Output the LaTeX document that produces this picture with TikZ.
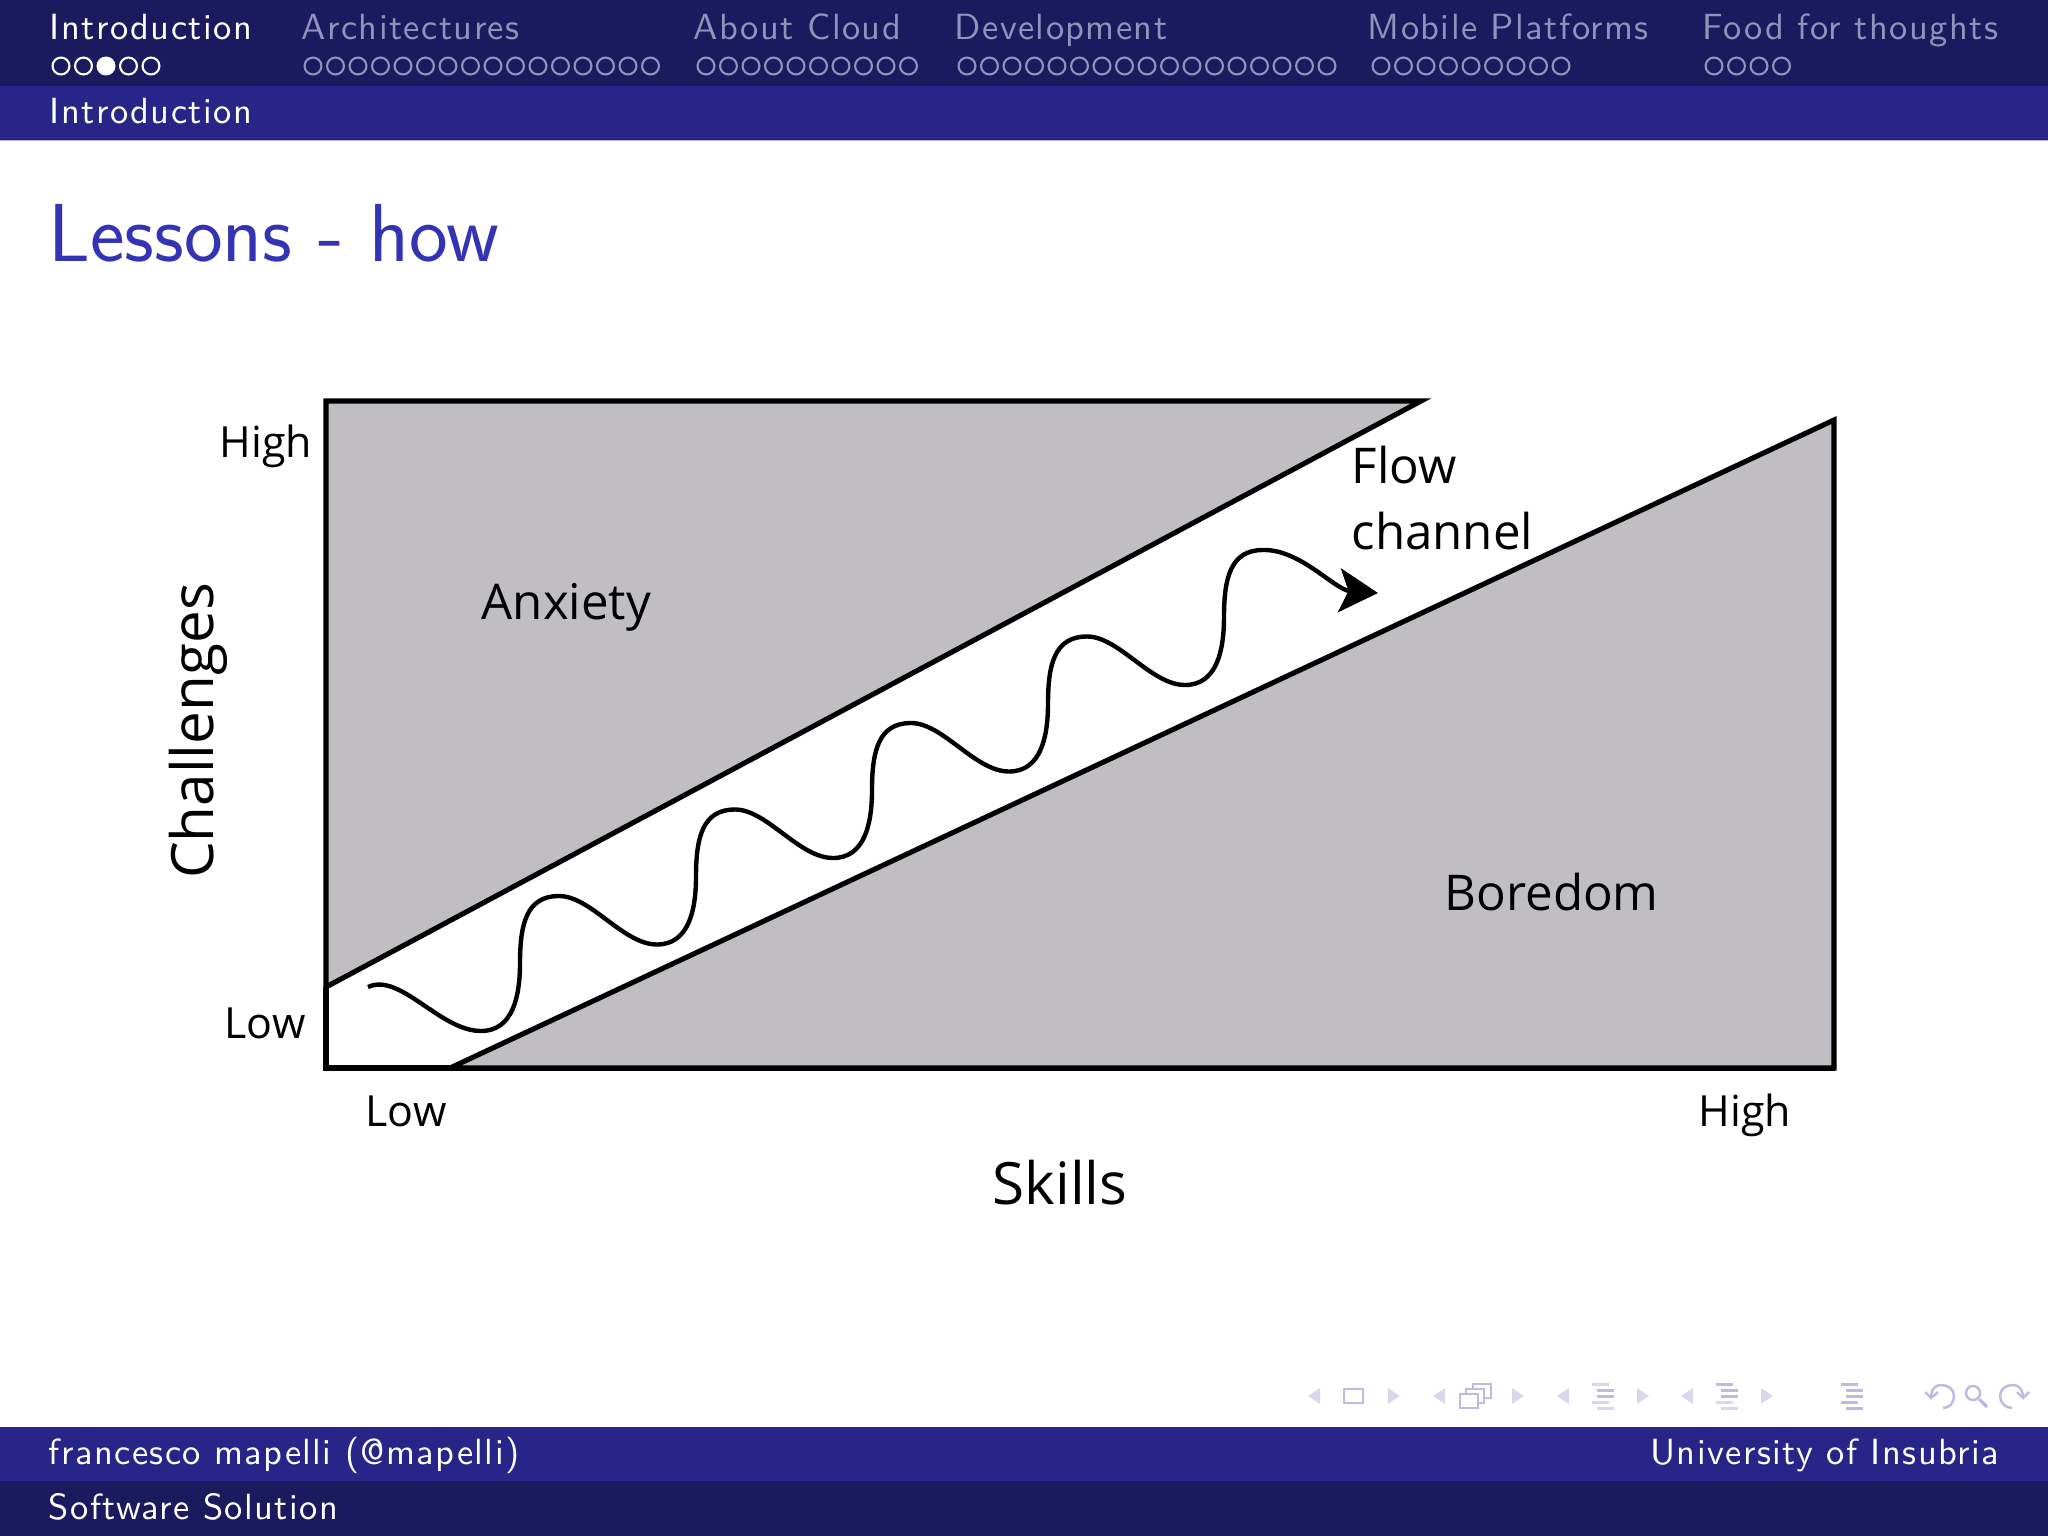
\documentclass[tikz,border=0pt]{standalone}
\usepackage{fontspec}
\usepackage{xcolor}
\usetikzlibrary{arrows.meta}
\setsansfont[LetterSpace=4]{Latin Modern Sans}
\newfontfamily\titlefont{Latin Modern Sans}
\newfontfamily\chartfont{Open Sans}

\definecolor{navdark}{HTML}{1C1A5E}
\definecolor{navmid}{HTML}{272688}
\definecolor{navfaded}{HTML}{9392BC}
\definecolor{titleblue}{HTML}{3333B3}
\definecolor{zonegray}{HTML}{C0BEC2}
\definecolor{iconlight}{HTML}{D8D7EE}
\definecolor{icondark}{HTML}{BDBBE2}

\tikzset{
    navtext/.style={anchor=base west, inner sep=0, font=\sffamily\fontsize{10.35}{12}\selectfont},
    chartlabel/.style={anchor=base west, inner sep=0, font=\chartfont\fontsize{12.2}{15}\selectfont, black},
    chartzone/.style={anchor=base west, inner sep=0, font=\chartfont\fontsize{14}{17}\selectfont, black},
    chartaxis/.style={inner sep=0, font=\chartfont\fontsize{16.6}{20}\selectfont, black},
    zone/.style={draw=black, line width=1.45pt, fill=zonegray, line join=miter},
    navdot/.style={draw=navfaded, line width=0.6pt},
    icontip/.style={fill=iconlight},
    iconline/.style={draw=icondark, line width=0.7pt}
}

\begin{document}
\begin{tikzpicture}[x=0.01cm, y=-0.01cm]
    \useasboundingbox (0, 0) rectangle (2048, 1536);

    % bars
    \fill[navdark] (0, 0) rectangle (2048, 86);
    \fill[navmid] (0, 86) rectangle (2048, 139);
    \fill[navdark] (0, 139) rectangle (2048, 140);
    \fill[icondark] (0, 140) rectangle (2048, 141);
    \fill[navmid] (0, 1427) rectangle (2048, 1481);
    \fill[navdark] (0, 1481) rectangle (2048, 1536);

    % section names
    \node[navtext, white] (intro) at (49, 39) {Introduction};
    \node[navtext, navfaded] (arch) at (301, 39) {Architectures};
    \node[navtext, navfaded] (cloud) at (693, 39) {About Cloud};
    \node[navtext, navfaded] (dev) at (954, 39) {Development};
    \node[navtext, navfaded] (mobile) at (1367, 39) {Mobile Platforms};
    \node[navtext, navfaded] (food) at (1702, 39) {Food for thoughts};
    \node[navtext, white] (subsec) at (49, 123) {Introduction};

    % frame dots
    \foreach \startx/\num in {304/16, 697/10, 958/17, 1372/9, 1705/4}
        \foreach \i in {1,...,\num}
            \draw[navdot] ({\startx+(\i-1)*22.5+9}, 66) circle (2.4pt);
    \foreach \i in {1, 2, 4, 5}
        \draw[white, line width=0.6pt] ({52+(\i-1)*22.5+9}, 66) circle (2.4pt);
    \fill[white] (106, 66) circle (2.7pt);

    % title
    \node[anchor=base west, inner sep=0, titleblue, font=\titlefont\fontsize{23.4}{28}\selectfont] (title) at (48, 261) {Lessons - how};

    % chart
    \draw[line width=1.45pt] (326, 1068) -- (1835, 1068);
    \draw[zone] (1421, 401) -- (326, 401) -- (326, 987) -- cycle;
    \draw[zone] (450, 1068) -- (1834, 420) -- (1834, 1068) -- cycle;
    \draw[line width=1.45pt] (326, 987) -- (326, 1068) -- (450, 1068);

    % wave
    \draw[line width=1.25pt, -{Stealth[length=11pt, width=12.5pt, inset=2.6pt]}] (368, 987) .. controls (400, 972) and (440, 1031) .. (481, 1031)
        \foreach \k in {0, 1, 2, 3, 4} {
            .. controls ({481+\k*176+32}, {1031-\k*86.5}) and ({481+\k*176+39}, {1031-\k*86.5-35}) .. ({481+\k*176+39}, {1031-\k*86.5-68})
            .. controls ({481+\k*176+39}, {1031-\k*86.5-108}) and ({481+\k*176+46}, {1031-\k*86.5-135}) .. ({481+\k*176+78}, {1031-\k*86.5-135})
            \ifnum\k<4
            .. controls ({481+\k*176+110}, {1031-\k*86.5-135}) and ({481+\k*176+142}, {1031-\k*86.5-86.5}) .. ({481+(\k+1)*176}, {1031-(\k+1)*86.5})
            \fi
        }
        .. controls (1300, 549) and (1335, 590) .. (1378, 593);

    % labels
    \node[chartlabel] (chigh) at (219, 457) {High};
    \node[chartlabel] (clow) at (224, 1038) {Low};
    \node[chartlabel] (slow) at (365, 1126) {Low};
    \node[chartlabel] (shigh) at (1698, 1126) {High};
    \node[chartaxis, anchor=base] (skills) at (1060, 1204) {Skills};
    \node[chartaxis, anchor=base, rotate=90] (challenges) at (213, 731) {Challenges};
    \node[chartzone] (anxiety) at (481, 619) {Anxiety};
    \node[chartzone] (boredom) at (1444, 910) {Boredom};
    \node[chartzone] (flow) at (1351, 483) {Flow};
    \node[chartzone] (channel) at (1351, 549) {channel};

    % navigation symbols
    \foreach \xa in {1320, 1445, 1569, 1693}
        \fill[icontip] (\xa, 1388) -- (\xa-12, 1396) -- (\xa, 1404) -- cycle;
    \foreach \xb in {1388, 1512, 1637, 1761}
        \fill[icontip] (\xb, 1388) -- (\xb+12, 1396) -- (\xb, 1404) -- cycle;
    \draw[iconline] (1344, 1389) rectangle (1363, 1403);
    \draw[iconline] (1473, 1384) rectangle (1491, 1398);
    \draw[iconline, fill=white] (1466, 1389) rectangle (1484, 1403);
    \draw[iconline, fill=white] (1460, 1394) rectangle (1478, 1408);
    \foreach \xc/\lita/\litb/\litc/\litd/\lite in {1592/iconlight/icondark/icondark/iconlight/iconlight, 1716/icondark/icondark/icondark/iconlight/iconlight, 1841/icondark/icondark/icondark/icondark/icondark} {
        \fill[\lita] (\xc, 1383) rectangle (\xc+17, 1386);
        \fill[\litb] (\xc+5, 1389) rectangle (\xc+22, 1392);
        \fill[\litc] (\xc+5, 1395) rectangle (\xc+22, 1398);
        \fill[\litd] (\xc, 1401) rectangle (\xc+17, 1404);
        \fill[\lite] (\xc+5, 1407) rectangle (\xc+22, 1410);
    }
    \draw[iconline] (1943, 1408) .. controls (1950, 1408) and (1954, 1402) .. (1954, 1396) .. controls (1954, 1389) and (1948, 1385) .. (1941, 1385) .. controls (1935, 1385) and (1931, 1389) .. (1931, 1398);
    \draw[iconline] (1925, 1392) -- (1931, 1398) -- (1938, 1392);
    \draw[iconline] (2012, 1408) .. controls (2005, 1408) and (2000, 1402) .. (2000, 1396) .. controls (2000, 1389) and (2006, 1385) .. (2013, 1385) .. controls (2019, 1385) and (2023, 1389) .. (2023, 1398);
    \draw[iconline] (2017, 1392) -- (2023, 1398) -- (2029, 1392);
    \draw[iconline] (1973, 1393) circle (2pt);
    \draw[iconline, line width=1pt] (1979, 1399) -- (1987, 1407);

    % footer
    \node[navtext, white] (author) at (48, 1464) {francesco mapelli (@mapelli)};
    \node[navtext, white, anchor=base east] (univ) at (2000, 1464) {University of Insubria};
    \node[navtext, white] (dept) at (48, 1519) {Software Solution};
\end{tikzpicture}
\end{document}
